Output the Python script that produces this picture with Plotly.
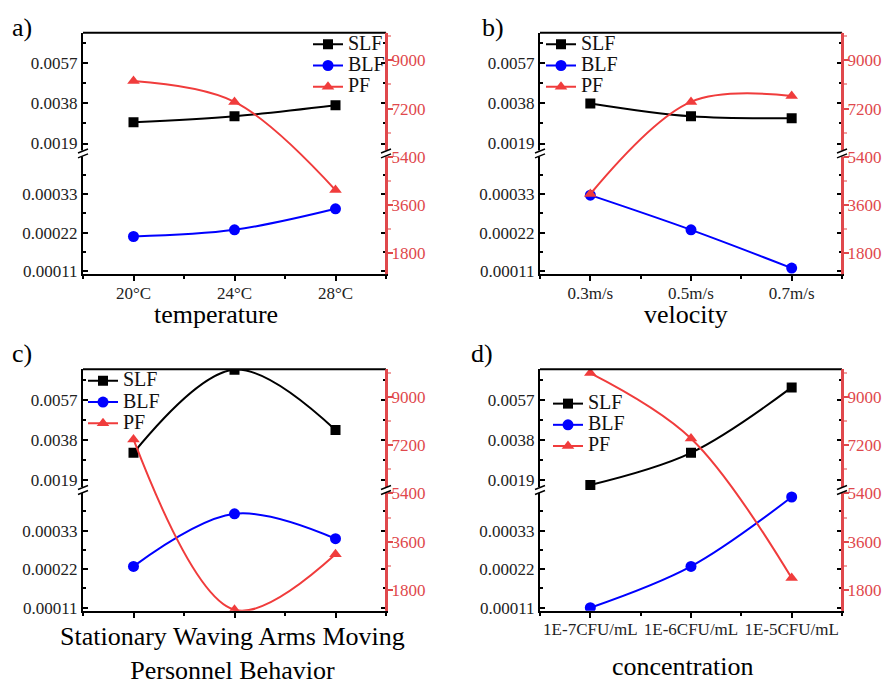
import plotly.graph_objects as go

W, H = 884, 690

# ---------------- data ----------------
series_names = ["SLF", "BLF", "PF"]

temp_cats = ["20°C", "24°C", "28°C"]
temp_slf = [0.00291, 0.00319, 0.00371]
temp_blf = [0.000209, 0.000228, 0.000288]
temp_pf = [8225, 7449, 4162]

vel_cats = ["0.3m/s", "0.5m/s", "0.7m/s"]
vel_slf = [0.0038, 0.00319, 0.0031]
vel_blf = [0.000327, 0.000228, 0.000119]
vel_pf = [4015, 7449, 7670]

beh_cats = ["Stationary", "Waving Arms", "Moving"]
beh_slf = [0.00319, 0.00713, 0.00427]
beh_blf = [0.000228, 0.000378, 0.000307]
beh_pf = [7412, 1060, 3128]

conc_cats = ["1E-7CFU/mL", "1E-6CFU/mL", "1E-5CFU/mL"]
conc_slf = [0.00167, 0.00319, 0.00629]
conc_blf = [0.00011, 0.000228, 0.000426]
conc_pf = [9886, 7449, 2242]

upper_ticks = [0.0019, 0.0038, 0.0057]
upper_minor = [0.00285, 0.00475, 0.00665]
lower_ticks = [0.00011, 0.00022, 0.00033]
lower_minor = [0.000165, 0.000275, 0.000385]
pf_ticks = [1800, 3600, 5400, 7200, 9000]
pf_minor = [2700, 4500, 6300, 8100, 9900]

x_titles = ["temperature", "velocity", "Personnel Behavior", "concentration"]
panel_labels = ["a)", "b)", "c)", "d)"]

# ---------------- style ----------------
FONT = "Liberation Serif"
BLACK = "#000000"
BLUE = "#0000ff"
RED = "#f03c3c"
RED_AX = "#e0484c"


def px(x):
    return x / W


def py(y):
    return 1 - y / H


# pixel frames of each panel (window coords): (left, right, top, bottom)
frames = [(83, 386, 33, 277), (540, 842, 33, 277),
          (83, 386, 373, 617), (540, 842, 373, 617)]
legend_pos = [(308, 29), (541, 29), (83, 369), (548, 392)]
label_pos = [(22, 28), (493, 28), (22, 357), (482, 357)]
title_pos = [(216, 318), (686, 318), (232, 694), (683, 673)]

panels = [
    (temp_cats, temp_slf, temp_blf, temp_pf),
    (vel_cats, vel_slf, vel_blf, vel_pf),
    (beh_cats, beh_slf, beh_blf, beh_pf),
    (conc_cats, conc_slf, conc_blf, conc_pf),
]

fig = go.Figure()
layout = dict(
    width=W, height=H,
    margin=dict(l=0, r=0, t=0, b=0),
    paper_bgcolor="white", plot_bgcolor="rgba(0,0,0,0)",
    font=dict(family=FONT, size=17, color="black"),
    showlegend=True,
)
shapes = []
annotations = []


def legend_name(n):
    return f"<span style='font-size:20px'>{n}</span>"


for i, (cats, slf, blf, pf) in enumerate(panels):
    k = i + 1
    left, right, top, bottom = frames[i]
    mid = (top + bottom) / 2
    xi = "x" if k == 1 else f"x{k}"
    yl_n, yu_n, yr_n = 3 * i + 1, 3 * i + 2, 3 * i + 3
    yl = "y" if yl_n == 1 else f"y{yl_n}"
    yu, yr = f"y{yu_n}", f"y{yr_n}"
    leg = "legend" if k == 1 else f"legend{k}"
    xs = list(range(len(cats)))

    fig.add_trace(go.Scatter(
        x=xs, y=slf, name=legend_name(series_names[0]), xaxis=xi, yaxis=yu, legend=leg,
        mode="lines+markers", line=dict(color=BLACK, width=2, shape="spline"),
        marker=dict(symbol="square", size=10, color=BLACK), cliponaxis=True))
    fig.add_trace(go.Scatter(
        x=xs, y=blf, name=legend_name(series_names[1]), xaxis=xi, yaxis=yl, legend=leg,
        mode="lines+markers", line=dict(color=BLUE, width=2, shape="spline"),
        marker=dict(symbol="circle", size=11, color=BLUE), cliponaxis=True))
    fig.add_trace(go.Scatter(
        x=xs, y=pf, name=legend_name(series_names[2]), xaxis=xi, yaxis=yr, legend=leg,
        mode="lines+markers", line=dict(color=RED, width=2, shape="spline"),
        marker=dict(symbol="triangle-up", size=11, color=RED), cliponaxis=True))

    show_xlabels = i != 2
    layout["xaxis" if k == 1 else f"xaxis{k}"] = dict(
        domain=[px(left), px(right)], anchor=yl, range=[-0.5, 2.5],
        tickmode="array", tickvals=xs, ticktext=cats,
        showticklabels=show_xlabels,
        ticks="outside", ticklen=5, tickwidth=1.5, tickcolor=BLACK,
        ticklabelstandoff=-3,
        minor=dict(tickmode="array", tickvals=[-0.5, 0.5, 1.5, 2.5],
                   ticks="outside", ticklen=3, tickcolor=BLACK),
        showline=True, linecolor=BLACK, linewidth=2,
        showgrid=False, zeroline=False,
        tickfont=dict(family=FONT, size=17, color="#222"),
    )
    layout["yaxis" if yl_n == 1 else f"yaxis{yl_n}"] = dict(
        domain=[py(bottom), py(mid)], anchor=xi,
        range=[0.0001015, 0.000446],
        tickmode="array", tickvals=lower_ticks,
        ticktext=[f"{v:.5f}" for v in lower_ticks],
        ticks="inside", ticklen=5, tickwidth=1.5, tickcolor=BLACK,
        minor=dict(tickmode="array", tickvals=lower_minor, ticks="inside",
                   ticklen=3, tickcolor=BLACK),
        showline=True, linecolor=BLACK, linewidth=2, mirror="ticks",
        showgrid=False, zeroline=False,
        tickfont=dict(family=FONT, size=17, color="#222"),
    )
    layout[f"yaxis{yu_n}"] = dict(
        domain=[py(mid), py(top)], anchor=xi,
        range=[0.00143, 0.00715],
        tickmode="array", tickvals=upper_ticks,
        ticktext=[f"{v:.4f}" for v in upper_ticks],
        ticks="inside", ticklen=5, tickwidth=1.5, tickcolor=BLACK,
        minor=dict(tickmode="array", tickvals=upper_minor, ticks="inside",
                   ticklen=3, tickcolor=BLACK),
        showline=True, linecolor=BLACK, linewidth=2, mirror="ticks",
        showgrid=False, zeroline=False,
        tickfont=dict(family=FONT, size=17, color="#222"),
    )
    layout[f"yaxis{yr_n}"] = dict(
        domain=[py(bottom), py(top)], anchor=xi, side="right",
        range=[1025, 10030],
        tickmode="array", tickvals=pf_ticks,
        ticktext=[str(v) for v in pf_ticks],
        ticks="outside", ticklen=5, tickwidth=1.5, tickcolor=RED_AX,
        ticklabelstandoff=-5,
        minor=dict(tickmode="array", tickvals=pf_minor, ticks="outside",
                   ticklen=3, tickcolor="#f0a0a0"),
        showline=True, linecolor=RED_AX, linewidth=2,
        showgrid=False, zeroline=False,
        tickfont=dict(family=FONT, size=17, color=RED_AX),
    )
    lx, ly = legend_pos[i]
    layout[leg] = dict(
        x=px(lx), y=py(ly), xanchor="left", yanchor="top",
        bgcolor="rgba(0,0,0,0)", borderwidth=0,
        font=dict(family=FONT, size=14, color="#111"),
        itemwidth=30, tracegroupgap=0, itemsizing="trace",
    )

    # frame: top border + red right spine on top
    shapes.append(dict(type="line", xref="paper", yref="paper",
                       x0=px(left), x1=px(right), y0=py(top), y1=py(top),
                       line=dict(color=BLACK, width=2), layer="above"))
    shapes.append(dict(type="line", xref="paper", yref="paper",
                       x0=px(right), x1=px(right), y0=py(top), y1=py(bottom),
                       line=dict(color=RED_AX, width=2), layer="above"))
    # axis break marks
    for bx in (left, right):
        shapes.append(dict(type="line", xref="paper", yref="paper",
                           x0=px(bx), x1=px(bx), y0=py(mid - 3), y1=py(mid + 3),
                           line=dict(color="white", width=4), layer="above"))
        for off in (-2.5, 2.5):
            shapes.append(dict(type="line", xref="paper", yref="paper",
                               x0=px(bx - 5), x1=px(bx + 5),
                               y0=py(mid + off + 2), y1=py(mid + off - 2),
                               line=dict(color=BLACK, width=1.5), layer="above"))

    # panel label
    lx2, ly2 = label_pos[i]
    annotations.append(dict(text=panel_labels[i], xref="paper", yref="paper",
                            x=px(lx2), y=py(ly2), xanchor="center", yanchor="middle",
                            showarrow=False, font=dict(family=FONT, size=26, color="black")))
    # axis title
    tx, ty = title_pos[i]
    if i == 2:
        annotations.append(dict(text=" ".join(cats) + "<br>" + x_titles[i],
                                xref="paper", yref="paper",
                                x=px(tx), y=py(ty), xanchor="center", yanchor="bottom",
                                showarrow=False, font=dict(family=FONT, size=26, color="black")))
    else:
        annotations.append(dict(text=x_titles[i], xref="paper", yref="paper",
                                x=px(tx), y=py(ty), xanchor="center", yanchor="middle",
                                showarrow=False, font=dict(family=FONT, size=26, color="black")))

layout["shapes"] = shapes
layout["annotations"] = annotations
fig.update_layout(**layout)
fig.write_html(
    "out.html",
    config={"displayModeBar": False},
    post_script="document.body.style.margin='0';document.body.style.overflow='hidden';",
)
